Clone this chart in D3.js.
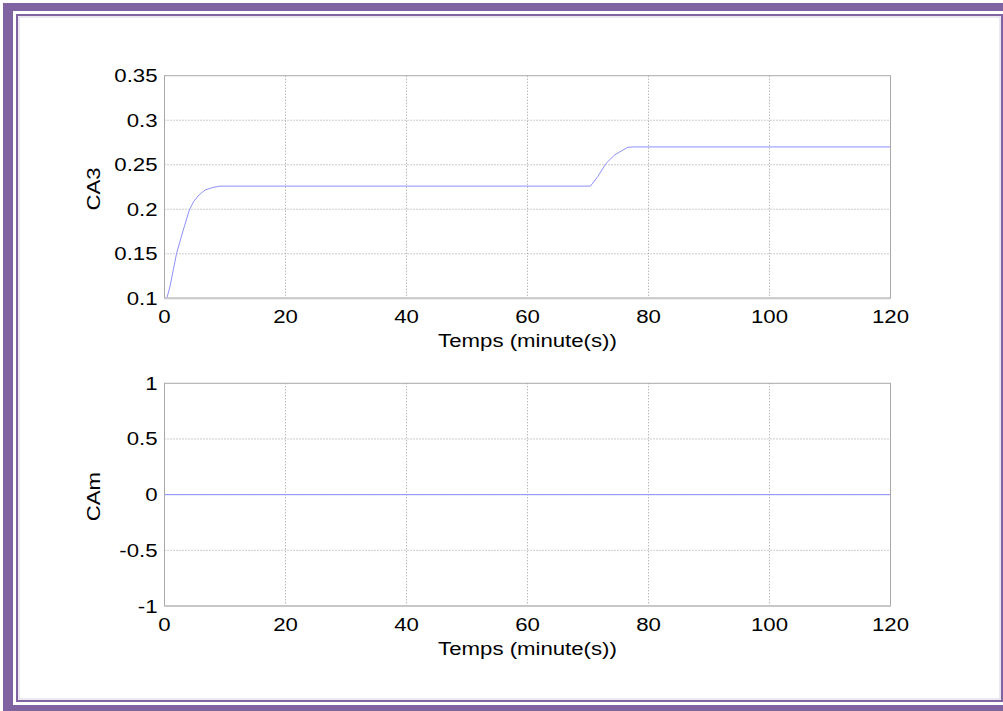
<!DOCTYPE html>
<html>
<head>
<meta charset="utf-8">
<script src="https://cdn.jsdelivr.net/npm/d3@7/dist/d3.min.js"></script>
<style>
  html, body { margin: 0; padding: 0; background: #fff; }
  svg { display: block; }
  text { font-family: "Liberation Sans", Arial, sans-serif; fill: #000; }
</style>
</head>
<body>
<svg id="chart" width="1003" height="711"></svg>
<script>
// Reactor concentration CA3 versus time (minutes)
const timeCA3 = [0, 0.4, 0.9, 2.0, 3.1, 4.1, 4.8, 5.7, 6.7, 8.0, 9.2, 70.4, 71.6, 73.0, 74.4, 75.5, 76.6, 77.5, 120];
const valuesCA3 = [0.1, 0.1005, 0.113, 0.1505, 0.1767, 0.199, 0.2085, 0.216, 0.2216, 0.2245, 0.226, 0.226, 0.2366, 0.2516, 0.261, 0.2654, 0.2696, 0.27, 0.27];

// CAm stays at zero for the whole run
const timeCAm = [0, 120];
const valuesCAm = [0, 0];

const xTicks = [0, 20, 40, 60, 80, 100, 120];
const yTicksCA3 = [0.1, 0.15, 0.2, 0.25, 0.3, 0.35];
const yTicksCAm = [-1, -0.5, 0, 0.5, 1];
const xTitle = "Temps (minute(s))";

const svg = d3.select("#chart");

// page frame
const purple = "#8064a2";
svg.append("rect").attr("x", 0).attr("y", 0).attr("width", 1003).attr("height", 711).attr("fill", "#fff");
svg.append("rect").attr("x", 3).attr("y", 3).attr("width", 1003).attr("height", 8).attr("fill", purple);
svg.append("rect").attr("x", 3).attr("y", 3).attr("width", 10).attr("height", 708).attr("fill", purple);
svg.append("rect").attr("x", 3).attr("y", 705).attr("width", 1003).attr("height", 6).attr("fill", purple);
svg.append("rect").attr("x", 17).attr("y", 15).attr("width", 985).attr("height", 686)
  .attr("fill", "none").attr("stroke", purple).attr("stroke-width", 2);
svg.append("rect").attr("x", 19).attr("y", 17).attr("width", 981).attr("height", 682)
  .attr("fill", "none").attr("stroke", "#d9d2e6").attr("stroke-width", 1);

const left = 164.5, right = 890.5;
const fontSize = 18.5, stretch = 1.2;

function hText(g, x, y, str, anchor) {
  g.append("text")
    .attr("transform", `translate(${x},${y}) scale(${stretch},1)`)
    .attr("text-anchor", anchor)
    .attr("font-size", fontSize)
    .text(str);
}

function panel(top, bottom, yDomain, yTicks, times, values, yLabel, fmt) {
  const x = d3.scaleLinear().domain([0, 120]).range([left, right]);
  const y = d3.scaleLinear().domain(yDomain).range([bottom, top]);
  const g = svg.append("g");

  // dotted grid
  g.selectAll(".vg").data(xTicks.filter(t => t > 0 && t < 120)).join("line")
    .attr("x1", d => x(d)).attr("x2", d => x(d))
    .attr("y1", top).attr("y2", bottom)
    .attr("stroke", "#9a9a9a").attr("stroke-width", 1).attr("stroke-dasharray", "1,2");
  g.selectAll(".hg").data(yTicks.filter(t => t > yDomain[0] && t < yDomain[1])).join("line")
    .attr("x1", left).attr("x2", right)
    .attr("y1", d => y(d)).attr("y2", d => y(d))
    .attr("stroke", "#9a9a9a").attr("stroke-width", 1).attr("stroke-dasharray", "1,2");

  // data line
  const line = d3.line().x((d, i) => x(times[i])).y(d => y(d));
  g.append("path").datum(values).attr("d", line)
    .attr("fill", "none").attr("stroke", "#8f8fff").attr("stroke-width", 1);

  // axes box
  g.append("rect").attr("x", left).attr("y", top).attr("width", right - left).attr("height", bottom - top)
    .attr("fill", "none").attr("stroke", "#a8a8a8").attr("stroke-width", 1);
  g.append("line").attr("x1", left).attr("x2", right).attr("y1", bottom).attr("y2", bottom)
    .attr("stroke", "#c8c8c8").attr("stroke-width", 2);

  // tick labels
  xTicks.forEach(t => hText(g, x(t), bottom + 25, String(t), "middle"));
  yTicks.forEach(t => hText(g, left - 7, y(t) + 6.5, fmt(t), "end"));

  // axis titles
  hText(g, (left + right) / 2, bottom + 49, xTitle, "middle");
  g.append("text")
    .attr("transform", `translate(100,${(top + bottom) / 2 + 2}) rotate(-90) scale(${stretch},1)`)
    .attr("text-anchor", "middle")
    .attr("font-size", fontSize)
    .text(yLabel);
}

panel(75.7, 298.3, [0.1, 0.35], yTicksCA3, timeCA3, valuesCA3, "CA3", d => String(+d.toFixed(2)));
panel(383.3, 606, [-1, 1], yTicksCAm, timeCAm, valuesCAm, "CAm", d => String(d));
</script>
</body>
</html>
